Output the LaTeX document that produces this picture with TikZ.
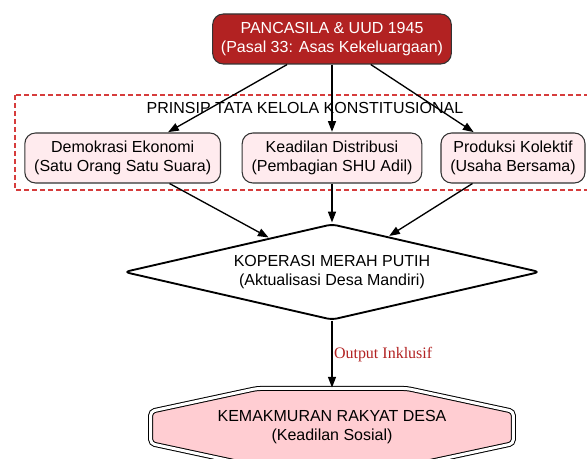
\documentclass[tikz,border=0pt]{standalone}
\usepackage{fontspec}
\setmainfont{Liberation Sans}
\newfontfamily\serifteks{Liberation Serif}
\usetikzlibrary{arrows.meta,shapes.geometric,backgrounds}
\definecolor{merahtua}{RGB}{178,34,34}
\definecolor{merahmuda}{RGB}{255,235,238}
\definecolor{pinkhasil}{RGB}{255,205,210}
\definecolor{garis}{RGB}{51,51,51}
\definecolor{putus}{RGB}{214,60,60}
\tikzset{%
	pusat/.style={draw=garis, rounded corners=8pt, line width=0.8pt, fill=merahtua, text=white, align=center, minimum width=179pt, minimum height=37.5pt},
	prinsip/.style={draw=garis, rounded corners=8pt, line width=0.8pt, fill=merahmuda, align=center, inner xsep=7pt, minimum height=37.5pt},
	koperasi/.style={diamond, draw, line width=1.4pt, aspect=4.3, rounded corners=4pt, align=center, minimum width=312pt, minimum height=72pt, inner sep=0pt},
	hasil/.style={align=center, minimum width=272pt, minimum height=58.5pt},
	oktagon/.style={draw, line width=0.75pt, double, double distance=2.25pt, fill=pinkhasil, rounded corners=3pt},
	kluster/.style={draw=putus, line width=0.8pt, dash pattern=on 3.75pt off 2.25pt},
	keterangan/.style={midway, right, inner sep=1pt, text=merahtua, font=\serifteks\fontsize{12}{14.4}\selectfont},
	arrow/.style={line width=1pt,-{Triangle[length=8pt,width=6pt]},shorten >=0.5pt}}

\begin{document}
\begin{tikzpicture}[x=0.75pt, y=-0.75pt, font=\fontsize{12}{14.4}\selectfont]
		\useasboundingbox (0,0) rectangle (587,459);
		\node[pusat] (PUUD) at (332,39) {PANCASILA \& UUD 1945\\(Pasal 33: Asas Kekeluargaan)};
		\node[prinsip, node distance=89.25pt] (KD) [below of=PUUD] {Keadilan Distribusi\\(Pembagian SHU Adil)};
		\node[prinsip, node distance=157pt] (DE) [left of=KD] {Demokrasi Ekonomi\\(Satu Orang Satu Suara)};
		\node[prinsip, node distance=135.75pt] (PK) [right of=KD] {Produksi Kolektif\\(Usaha Bersama)};
		\node[koperasi, node distance=85.5pt] (KMP) [below of=KD] {KOPERASI MERAH PUTIH\\(Aktualisasi Desa Mandiri)};
		\node[hasil, node distance=116.6pt] (KRD) [below of=KMP] {KEMAKMURAN RAKYAT DESA\\(Keadilan Sosial)};
		
		\draw[kluster] (15,95) rectangle (595,190);
		\node (PTK) at (305,108) {PRINSIP TATA KELOLA KONSTITUSIONAL};
		
		\begin{pgfonlayer}{background}
		\draw[oktagon] ([shift={(-56.3pt,29.25pt)}]KRD.center) -- ([shift={(56.3pt,29.25pt)}]KRD.center)
			-- ([shift={(136pt,12.1pt)}]KRD.center) -- ([shift={(136pt,-12.1pt)}]KRD.center)
			-- ([shift={(56.3pt,-29.25pt)}]KRD.center) -- ([shift={(-56.3pt,-29.25pt)}]KRD.center)
			-- ([shift={(-136pt,-12.1pt)}]KRD.center) -- ([shift={(-136pt,12.1pt)}]KRD.center) -- cycle;
		\end{pgfonlayer}
		
		\path[arrow] (PUUD) 	edge []  (DE);
		\path[arrow] (PUUD) 	edge []  (KD);
		\path[arrow] (PUUD) 	edge []  (PK);
		\path[arrow] (DE) 	edge []  (KMP);
		\path[arrow] (KD) 	edge []  (KMP);
		\path[arrow] (PK) 	edge []  (KMP);
		\path[arrow] (KMP) 	edge []  node [keterangan] 	{Output Inklusif} (KRD);
	\end{tikzpicture}
\end{document}
